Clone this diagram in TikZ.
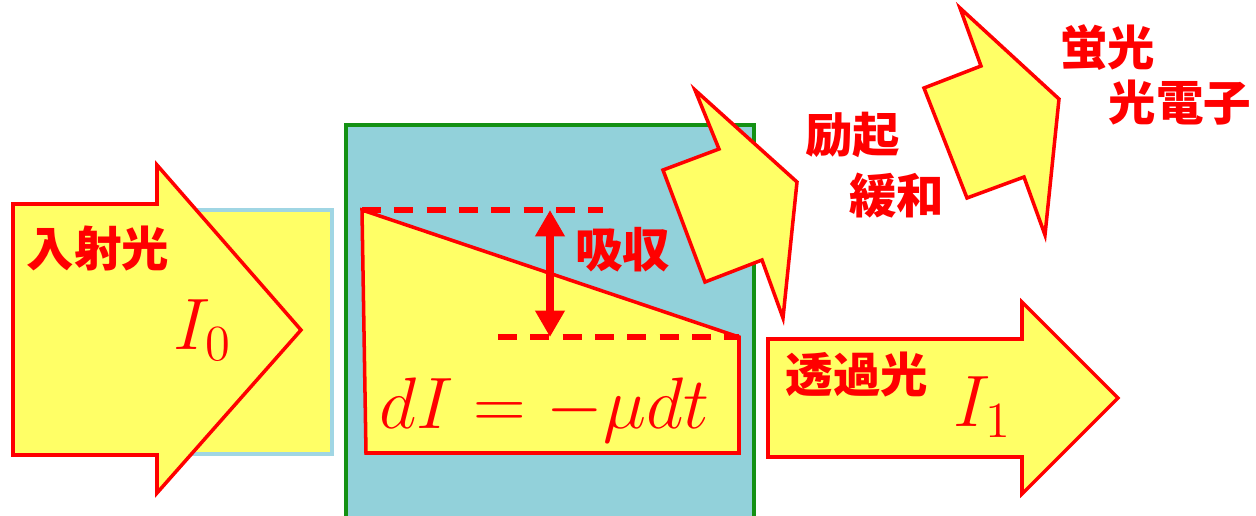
\documentclass[tikz,border=0pt]{standalone}
\usepackage{fontspec}
\usepackage{tikz}
\usetikzlibrary{arrows.meta}
\newfontfamily\cjk{Noto Sans CJK JP}
\definecolor{beamY}{RGB}{255,255,102}
\definecolor{sampleC}{RGB}{146,209,218}
\definecolor{sampleG}{RGB}{20,145,20}
\definecolor{edgeB}{RGB}{160,214,228}
\tikzstyle{beam}   = [draw=red, fill=beamY, line width=1pt, line join=miter]
\tikzstyle{jptext} = [text=red, inner sep=0pt, font=\cjk\bfseries\fontsize{13.5}{16}\selectfont]
\tikzstyle{mathtext} = [text=red, inner sep=0pt, font=\fontsize{21}{25}\selectfont]
\tikzstyle{level}  = [red, line width=1.7pt, dash pattern=on 5.4pt off 3.8pt]
\tikzstyle{absorb} = [{Triangle[width=8pt,length=7.5pt]}-{Triangle[width=8pt,length=7.5pt]}, red, line width=2.2pt]

\begin{document}
\begin{tikzpicture}[x=0.1mm, y=-0.1mm]
% canvas in pixels: 1256 x 516
\clip (0,0) rectangle (1256,516);
% incident beam
\draw[draw=edgeB, fill=beamY, line width=1pt] (150,210) rectangle (332,454);
\draw[beam] (13,204) -- (157,204) -- (157,165) -- (301,330) -- (157,493) -- (157,455) -- (13,455) -- cycle;
\node[jptext] (inc) at (98,248) {入射光};
\node[mathtext] (Izero) at (203,330) {$I_0$};
% sample
\draw[draw=sampleG, fill=sampleC, line width=1pt] (346,125) rectangle (754,540);
\draw[draw=red, fill=beamY, line width=1pt, line join=miter] (362,210) -- (739,337) -- (739,453) -- (366,453) -- cycle;
\coordinate (top) at (550,210);
\coordinate (bot) at (550,337);
\draw[level] (362,210) -- (603,210);
\draw[level] (498,337) -- (739,337);
\draw[absorb] (top) -- (bot);
\node[jptext] (abs) at (623,250) {吸収};
\node[mathtext] (law) at (544,410) {$dI = -\mu dt$};
% excitation / relaxation arrow
\draw[beam] (695,90) -- (797,182) -- (783,318) -- (762,260) -- (705,282) -- (663,170) -- (719,149) -- cycle;
\node[jptext] (exc) at (853,135) {励起};
\node[jptext] (rel) at (897,196) {緩和};
% emission arrow
\draw[beam] (960,8) -- (1059,99) -- (1045,235) -- (1024,177) -- (967,198) -- (924,88) -- (981,66) -- cycle;
\node[jptext] (fluo) at (1108,48) {蛍光};
\node[jptext] (pe) at (1180,103) {光電子};
% transmitted beam
\draw[beam] (768,339) -- (1022,339) -- (1022,302) -- (1118,398) -- (1022,494) -- (1022,457) -- (768,457) -- cycle;
\node[jptext] (trans) at (857,375) {透過光};
\node[mathtext] (Ione) at (983,407) {$I_1$};
\end{tikzpicture}
\end{document}
